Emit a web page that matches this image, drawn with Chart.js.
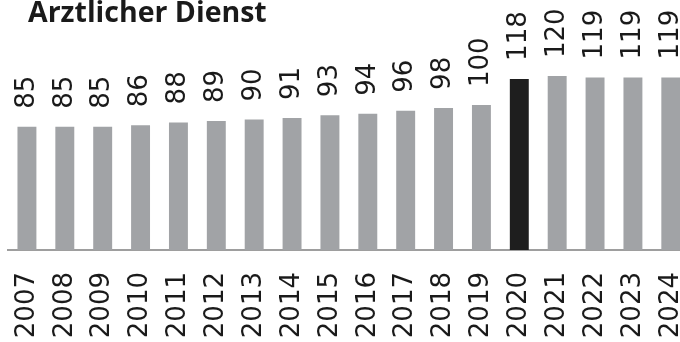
<!DOCTYPE html>
<html lang="de">
<head>
<meta charset="UTF-8">
<title>Arztlicher Dienst</title>
<script src="https://cdn.jsdelivr.net/npm/chart.js@4.4.1/dist/chart.umd.min.js"></script>
<style>
  body { margin: 0; overflow: hidden; background: #fff; }
  /* etwas breiter als das Fenster: der letzte Balken wird am Rand abgeschnitten */
  #wrap { width: 724px; height: 342px; }
</style>
</head>
<body>
<div id="wrap"><canvas id="chart"></canvas></div>
<script>
  // Daten
  const jahre = ['2007', '2008', '2009', '2010', '2011', '2012', '2013', '2014', '2015',
                 '2016', '2017', '2018', '2019', '2020', '2021', '2022', '2023', '2024'];
  const werte = [85, 85, 85, 86, 88, 89, 90, 91, 93, 94, 96, 98, 100, 118, 120, 119, 119, 119];
  const hervorgehoben = '2020';
  const titel = 'Arztlicher Dienst';

  const grau = '#a1a3a6';
  const schwarz = '#1e1e1e';
  const farben = jahre.map(j => j === hervorgehoben ? schwarz : grau);

  // Titel oben links
  const titelPlugin = {
    id: 'titelPlugin',
    afterDraw(chart) {
      const ctx = chart.ctx;
      ctx.save();
      ctx.font = 'bold 28.5px "Open Sans"';
      ctx.fillStyle = '#1a1a1a';
      ctx.textAlign = 'left';
      ctx.textBaseline = 'alphabetic';
      ctx.fillText(titel, 28, 22);
      ctx.restore();
    }
  };

  // Werte senkrecht über den Balken
  const wertePlugin = {
    id: 'wertePlugin',
    afterDatasetsDraw(chart) {
      const ctx = chart.ctx;
      const meta = chart.getDatasetMeta(0);
      ctx.save();
      ctx.font = '26px "DejaVu Sans", Verdana, sans-serif';
      ctx.fillStyle = '#1a1a1a';
      meta.data.forEach((bar, i) => {
        ctx.save();
        ctx.translate(bar.x, bar.y - 18);
        ctx.rotate(-Math.PI / 2);
        ctx.textAlign = 'left';
        ctx.textBaseline = 'middle';
        ctx.fillText(String(werte[i]), 0, 0);
        ctx.restore();
      });
      ctx.restore();
    }
  };

  new Chart(document.getElementById('chart'), {
    type: 'bar',
    data: {
      labels: jahre,
      datasets: [{
        data: werte,
        backgroundColor: farben,
        borderWidth: 0,
        categoryPercentage: 1,
        barPercentage: 0.5
      }]
    },
    options: {
      responsive: true,
      maintainAspectRatio: false,
      animation: false,
      layout: { padding: { top: 18, left: 8, right: 0, bottom: 0 } },
      plugins: {
        legend: { display: false },
        tooltip: { enabled: false }
      },
      scales: {
        x: {
          grid: { display: true, drawOnChartArea: false, drawTicks: false },
          border: { display: true, color: '#9e9e9e', width: 2 },
          ticks: {
            autoSkip: false,
            minRotation: 90,
            maxRotation: 90,
            padding: 22,
            color: '#1a1a1a',
            font: { family: '"DejaVu Sans", Verdana, sans-serif', size: 26 }
          },
          afterFit(scale) { scale.height = 92; }
        },
        y: {
          display: false,
          min: 0,
          max: 160
        }
      }
    },
    plugins: [titelPlugin, wertePlugin]
  });
</script>
</body>
</html>
